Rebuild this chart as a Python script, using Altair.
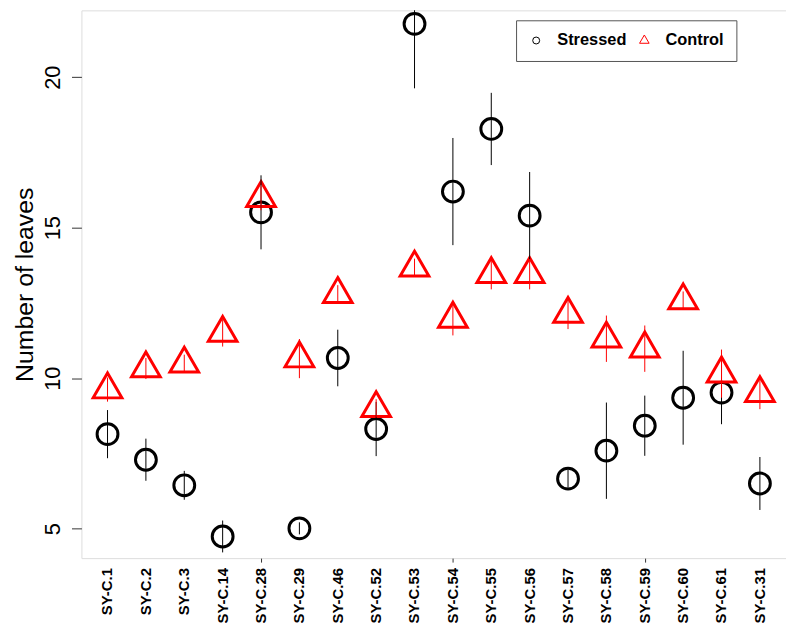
import altair as alt
import pandas as pd

categories = ["SY-C.1", "SY-C.2", "SY-C.3", "SY-C.14", "SY-C.28", "SY-C.29", "SY-C.46",
              "SY-C.52", "SY-C.53", "SY-C.54", "SY-C.55", "SY-C.56", "SY-C.57", "SY-C.58",
              "SY-C.59", "SY-C.60", "SY-C.61", "SY-C.31"]
stressed = [8.14, 7.29, 6.44, 4.74, 15.51, 5.01, 10.67, 8.31, 21.77, 16.20, 18.28, 15.40,
            6.66, 7.59, 8.42, 9.35, 9.52, 6.50]
stressed_err = [0.80, 0.70, 0.48, 0.53, 1.23, 0.20, 0.94, 0.90, 2.14, 1.78, 1.20, 1.45,
                0.30, 1.60, 1.00, 1.56, 1.05, 0.88]
control = [9.62, 10.32, 10.48, 11.50, 15.98, 10.65, 12.79, 9.00, 13.67, 11.97, 13.45, 13.45,
           12.13, 11.31, 10.98, 12.58, 10.15, 9.50]
control_err = [0.40, 0.35, 0.30, 0.45, 0.40, 0.65, 0.30, 0.30, 0.30, 0.55, 0.50, 0.50,
               0.50, 0.77, 0.77, 0.30, 0.80, 0.53]
groups = ["Stressed", "Control"]
y_ticks = [5, 10, 15, 20]
x_ticks = [5, 10, 15]

rows = []
for g, vals, errs in [("Stressed", stressed, stressed_err), ("Control", control, control_err)]:
    for i, (c, v, e) in enumerate(zip(categories, vals, errs)):
        rows.append({"pos": i + 1, "cat": c, "group": g, "value": v,
                     "lo": v - e, "hi": v + e})
df = pd.DataFrame(rows)
labels_df = pd.DataFrame({"pos": list(range(1, len(categories) + 1)), "cat": categories})

tri = "M0,-1.59L1.377,0.795L-1.377,0.795Z"
xscale = alt.Scale(domain=[0.32, 18.68], nice=False, zero=False)
yscale = alt.Scale(domain=[4.02, 22.22], nice=False, zero=False)
font = "Liberation Sans"

legend = alt.Legend(title=None, orient="none", legendX=438, legendY=10,
                    direction="horizontal", strokeColor="#555",
                    padding=12, labelFont=font, labelFontSize=16.5,
                    labelFontWeight="bold", labelColor="black",
                    symbolSize=49, symbolStrokeWidth=1,
                    labelOffset=13, columnPadding=9)
color_scale = alt.Scale(domain=groups, range=["black", "red"])
shape_scale = alt.Scale(domain=groups, range=["circle", tri])

x_enc = alt.X("pos:Q", scale=xscale, title=None,
              axis=alt.Axis(values=x_ticks, labels=False, tickSize=4, grid=False,
                            domain=False, tickColor="#333"))

points = alt.Chart(df).mark_point(filled=False, size=441, strokeWidth=3, opacity=1).encode(
    x=x_enc,
    y=alt.Y("value:Q", scale=yscale, title="Number of leaves",
            axis=alt.Axis(values=y_ticks, grid=False, domain=False, tickSize=10,
                          tickColor="#333", labelAngle=270, labelAlign="center",
                          labelBaseline="bottom", labelFontSize=22, labelFont=font,
                          labelColor="black", labelPadding=7,
                          titleFont=font, titleFontSize=25, titleFontWeight="normal",
                          titleColor="black", titlePadding=4)),
    color=alt.Color("group:N", scale=color_scale, legend=legend),
    shape=alt.Shape("group:N", scale=shape_scale, legend=legend),
)

rules = alt.Chart(df).mark_rule(strokeWidth=1, clip=True).encode(
    x=alt.X("pos:Q", scale=xscale),
    y=alt.Y("lo:Q", scale=yscale),
    y2="hi:Q",
    color=alt.Color("group:N", scale=color_scale, legend=legend),
)

xlabels = alt.Chart(labels_df).mark_text(angle=270, align="right", baseline="middle",
                                         font=font, fontSize=15, fontWeight="bold",
                                         color="black").encode(
    x=alt.X("pos:Q", scale=xscale),
    y=alt.value(562),
    text="cat:N",
)

chart = alt.layer(points, rules, xlabels).properties(
    width=710, height=552,
    autosize=alt.AutoSizeParams(type="none"),
    padding={"left": 74, "top": 0, "right": 0, "bottom": 66},
).configure_view(stroke="#333", strokeWidth=1).configure(background="white")

chart.save("out.html", embed_options={"renderer": "svg", "actions": False})
